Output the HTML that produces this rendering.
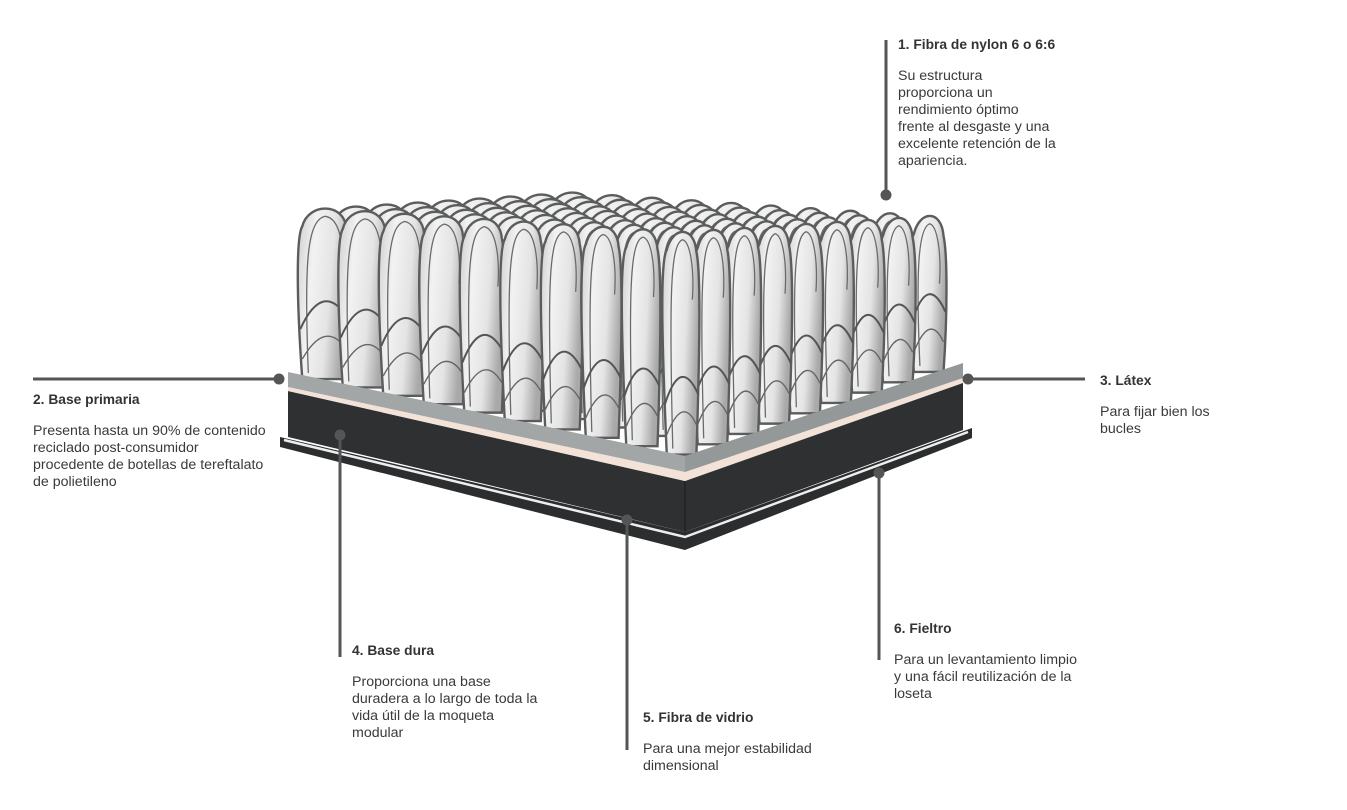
<!DOCTYPE html>
<html><head><meta charset="utf-8"><style>
body{margin:0;background:#fff;width:1347px;height:810px;overflow:hidden;position:relative;font-family:"Liberation Sans",sans-serif;color:#3a3a3a}
.t{position:absolute;font-size:14.2px;line-height:17px}
.t b{display:block;font-weight:bold;margin-bottom:15px;color:#333;font-size:13.8px}
svg{position:absolute;left:0;top:0}
</style></head><body>
<svg id="s" width="1347" height="810" viewBox="0 0 1347 810">
<defs>
<linearGradient id="lg" x1="0" y1="0" x2="1" y2="0.3">
<stop offset="0" stop-color="#cfcfcf"/><stop offset="0.35" stop-color="#f2f2f2"/><stop offset="0.7" stop-color="#e4e4e4"/><stop offset="1" stop-color="#a9a9a9"/>
</linearGradient>
</defs>
<g id="loops"></g>
<polygon points="280,437 685,532 972,428 972,438 685,550 280,447" fill="#2b2d2e"/>
<polyline points="284,440 685,537 968,432" fill="none" stroke="#eee" stroke-width="2.5"/>
<polygon points="288,391 685,481 963,381 963,430 685,532 288,437" fill="#2e3032"/>
<line x1="685" y1="481" x2="685" y2="532" stroke="#1a1a1a" stroke-width="1"/>
<polygon points="288,387 685,472 963,378 963,383 685,481 288,391" fill="#f2e2d8"/>
<polygon points="288,372 685,456 685,472 288,387" fill="#a3a6a6"/>
<polygon points="685,456 963,363 963,378 685,472" fill="#959898"/>
<g stroke="#555" stroke-width="3" fill="#555">
<line x1="886" y1="40" x2="886" y2="195"/><circle cx="886" cy="195" r="4"/>
<line x1="33" y1="379" x2="279" y2="379"/><circle cx="279" cy="379" r="4"/>
<line x1="968" y1="379" x2="1085" y2="379"/><circle cx="968" cy="379" r="4"/>
<line x1="340" y1="435" x2="340" y2="657"/><circle cx="340" cy="435" r="4"/>
<line x1="627" y1="520" x2="627" y2="750"/><circle cx="627" cy="520" r="4"/>
<line x1="879" y1="473" x2="879" y2="660"/><circle cx="879" cy="473" r="4"/>
</g>
</svg>
<script>
(function(){
var g=document.getElementById('loops'),h='';
var back=[566,279],A=[-278,93],B=[397,84];
var N=9,M=10,items=[];
for(var i=0;i<N;i++)for(var j=0;j<M;j++){
var s=(i+0.5)/N,t=(j+0.5)/M;
var x=back[0]+s*A[0]+t*B[0],y=back[1]+s*A[1]+t*B[1];
var top=188+s*18+t*26;
items.push([x,y,j,top]);}
items.sort(function(a,b){return a[1]-b[1]});
items.forEach(function(p){
var x=p[0],y=p[1]+8,w=50-p[2]*1.6,top=p[3];
var r=w/2;
var d='M'+(x-r+4)+','+y+' C'+(x-r-2)+','+(top+90)+' '+(x-r-2)+','+(top+30)+' '+(x-r+4)+','+(top+20)+' C'+(x-r+10)+','+(top-4)+' '+(x+r-4)+','+(top-4)+' '+(x+r-2)+','+(top+22)+' C'+(x+r+2)+','+(top+40)+' '+(x+r+2)+','+(top+100)+' '+(x+r-2)+','+y+' Z';
h+='<path d="'+d+'" fill="url(#lg)" stroke="#5b5d5d" stroke-width="2.4"/>';
h+='<path d="M'+(x-r+10)+','+(y-6)+' C'+(x-r+6)+','+(top+60)+' '+(x-r+8)+','+(top+14)+' '+(x+2)+','+(top+10)+' C'+(x+r-8)+','+(top+12)+' '+(x+r-4)+','+(top+40)+' '+(x+r-6)+','+(top+70)+'" fill="none" stroke="#6a6c6c" stroke-width="1.3"/>';
h+='<path d="M'+(x-r+2)+','+(y-50)+' Q'+x+','+(y-100)+' '+(x+r)+','+(y-60)+'" fill="none" stroke="#555" stroke-width="2"/>';
h+='<path d="M'+(x-r+4)+','+(y-20)+' Q'+(x+2)+','+(y-60)+' '+(x+r-2)+','+(y-30)+'" fill="none" stroke="#666" stroke-width="1.4"/>';
});
g.innerHTML=h;
})();
</script>
<div class="t" style="left:898px;top:36px;width:200px"><b>1. Fibra de nylon 6 o 6:6</b>Su estructura<br>proporciona un<br>rendimiento óptimo<br>frente al desgaste y una<br>excelente retención de la<br>apariencia.</div>
<div class="t" style="left:33px;top:391px;width:280px"><b>2. Base primaria</b>Presenta hasta un 90% de contenido<br>reciclado post-consumidor<br>procedente de botellas de tereftalato<br>de polietileno</div>
<div class="t" style="left:1100px;top:372px;width:200px"><b>3. Látex</b>Para fijar bien los<br>bucles</div>
<div class="t" style="left:352px;top:642px;width:240px"><b>4. Base dura</b>Proporciona una base<br>duradera a lo largo de toda la<br>vida útil de la moqueta<br>modular</div>
<div class="t" style="left:643px;top:709px;width:240px"><b>5. Fibra de vidrio</b>Para una mejor estabilidad<br>dimensional</div>
<div class="t" style="left:894px;top:620px;width:240px"><b>6. Fieltro</b>Para un levantamiento limpio<br>y una fácil reutilización de la<br>loseta</div>
</body></html>
